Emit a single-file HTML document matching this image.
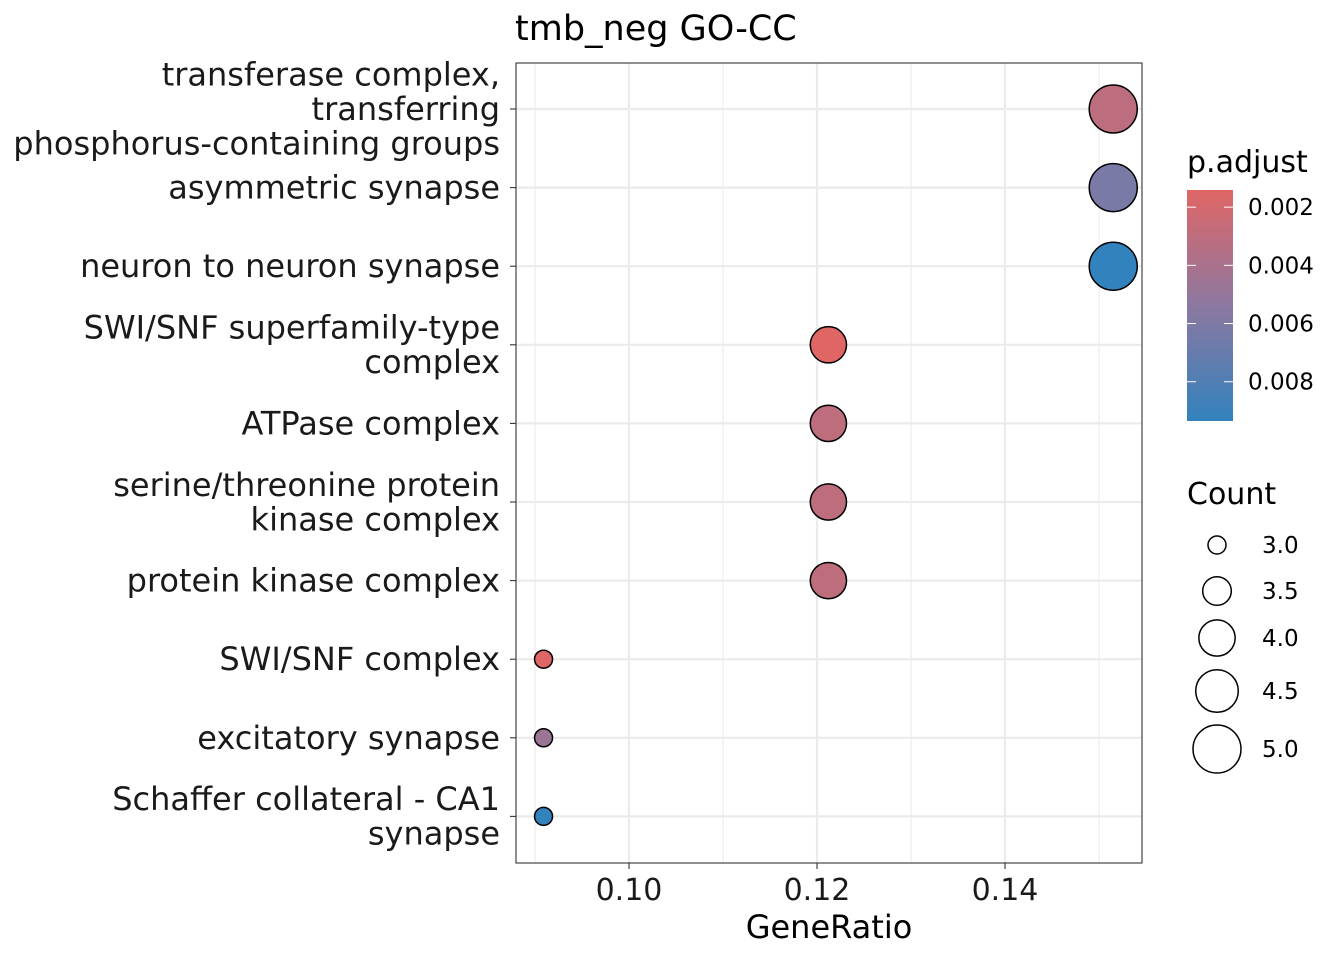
<!DOCTYPE html>
<html><head><meta charset="utf-8"><style>
body{margin:0;background:#fff;font-family:"Liberation Sans","DejaVu Sans",sans-serif;}
svg text{font-family:"DejaVu Sans","Liberation Sans",sans-serif;}
</style></head><body>
<svg id="chart" width="1344" height="960" xmlns="http://www.w3.org/2000/svg"></svg>
<script>
const categories=[
 ["transferase complex,","transferring","phosphorus-containing groups"],
 ["asymmetric synapse"],["neuron to neuron synapse"],
 ["SWI/SNF superfamily-type","complex"],["ATPase complex"],
 ["serine/threonine protein","kinase complex"],["protein kinase complex"],
 ["SWI/SNF complex"],["excitatory synapse"],["Schaffer collateral - CA1","synapse"]];
const geneRatio=[5/33,5/33,5/33,4/33,4/33,4/33,4/33,3/33,3/33,3/33];
const counts=[5,5,5,4,4,4,4,3,3,3];
const padj=[0.0031,0.0062,0.0093,0.0014,0.0030,0.0030,0.0030,0.0015,0.0047,0.0093];
const xTicks=[0.10,0.12,0.14];
const cTicks=[0.002,0.004,0.006,0.008];
const sizeTicks=[3.0,3.5,4.0,4.5,5.0];

const svg=document.getElementById('chart');const NS='http://www.w3.org/2000/svg';
function mk(t,a,p){const e=document.createElementNS(NS,t);for(const k in a)e.setAttribute(k,a[k]);(p||svg).appendChild(e);return e;}
const L=516,R=1142,T=63,B=863;
const x=v=>629+(v-0.10)*9400;
const y=i=>109+i*78.6;
const pMin=0.00141,pMax=0.00935;
function col(p){let t=(p-pMin)/(pMax-pMin);t=Math.max(0,Math.min(1,t));
 const a=[224,102,102],m=[140,120,160],b=[49,130,189];
 let c0,c1,u;if(t<0.5){c0=a;c1=m;u=t*2;}else{c0=m;c1=b;u=(t-0.5)*2;}
 return `rgb(${c0.map((c,i)=>Math.round(c+(c1[i]-c)*u)).join(',')})`;}
const rad=c=>Math.sqrt(81+(c-3)/2*(576-81));
for(let v=0.09;v<=0.1501;v+=0.01){const g=mk('line',{x1:x(v),x2:x(v),y1:T,y2:B,stroke:'#ebebeb','stroke-width':1.1});}
xTicks.forEach(v=>{const g=mk('line',{x1:x(v),x2:x(v),y1:T,y2:B,stroke:'#ebebeb','stroke-width':2.2});});
categories.forEach((c,i)=>{const g=mk('line',{x1:L,x2:R,y1:y(i),y2:y(i),stroke:'#ebebeb','stroke-width':2.2});});
categories.forEach((c,i)=>{const e=mk('circle',{cx:x(geneRatio[i]),cy:y(i),r:rad(counts[i]),fill:col(padj[i]),stroke:'#000','stroke-width':1.5});
 });
const fr=mk('rect',{x:L,y:T,width:R-L,height:B-T,fill:'none',stroke:'#333','stroke-width':1.1});

categories.forEach((c,i)=>{mk('line',{x1:L-6,x2:L,y1:y(i),y2:y(i),stroke:'#333','stroke-width':1.1});
 const n=c.length;const t=mk('text',{x:500,'font-size':32,'text-anchor':'end',fill:'#1a1a1a'});
 
 c.forEach((s,k)=>{const ts=mk('tspan',{x:500,y:y(i)+11+(k-(n-1)/2)*34.5},t);ts.textContent=s;});});
xTicks.forEach(v=>{mk('line',{x1:x(v),x2:x(v),y1:B,y2:B+6,stroke:'#333','stroke-width':1.1});
 const t=mk('text',{x:x(v),y:900,'font-size':30,'text-anchor':'middle',fill:'#1a1a1a'});t.textContent=v.toFixed(2);
 });
let t=mk('text',{x:829,y:938,'font-size':32,'text-anchor':'middle',fill:'#000'});t.textContent='GeneRatio';

t=mk('text',{x:515,y:40,'font-size':35,fill:'#000'});t.textContent='tmb_neg GO-CC';

t=mk('text',{x:1187,y:172,'font-size':30,fill:'#000'});t.textContent='p.adjust';

const defs=mk('defs',{});const gr=mk('linearGradient',{id:'g',x1:0,y1:0,x2:0,y2:1},defs);
[0,0.25,0.5,0.75,1].forEach(o=>mk('stop',{offset:o,'stop-color':col(pMin+o*(pMax-pMin))},gr));
const cb=mk('rect',{x:1187,y:190,width:46,height:231,fill:'url(#g)'});

const cy=v=>190+(v-pMin)/(pMax-pMin)*231;
cTicks.forEach(v=>{mk('line',{x1:1187,x2:1196,y1:cy(v),y2:cy(v),stroke:'#fff','stroke-width':1});mk('line',{x1:1224,x2:1233,y1:cy(v),y2:cy(v),stroke:'#fff','stroke-width':1});
 const tt=mk('text',{x:1248,y:cy(v)+8,'font-size':23,fill:'#000'});tt.textContent=v.toFixed(3);
 });
t=mk('text',{x:1187,y:504,'font-size':30,fill:'#000'});t.textContent='Count';

const sy=[545,591,638,691,749];
sizeTicks.forEach((v,i)=>{const c=mk('circle',{cx:1217,cy:sy[i],r:rad(v),fill:'none',stroke:'#000','stroke-width':1.5});
 
 const tt=mk('text',{x:1262,y:sy[i]+8,'font-size':23,fill:'#000'});tt.textContent=v.toFixed(1);
 });
</script>
</body></html>
